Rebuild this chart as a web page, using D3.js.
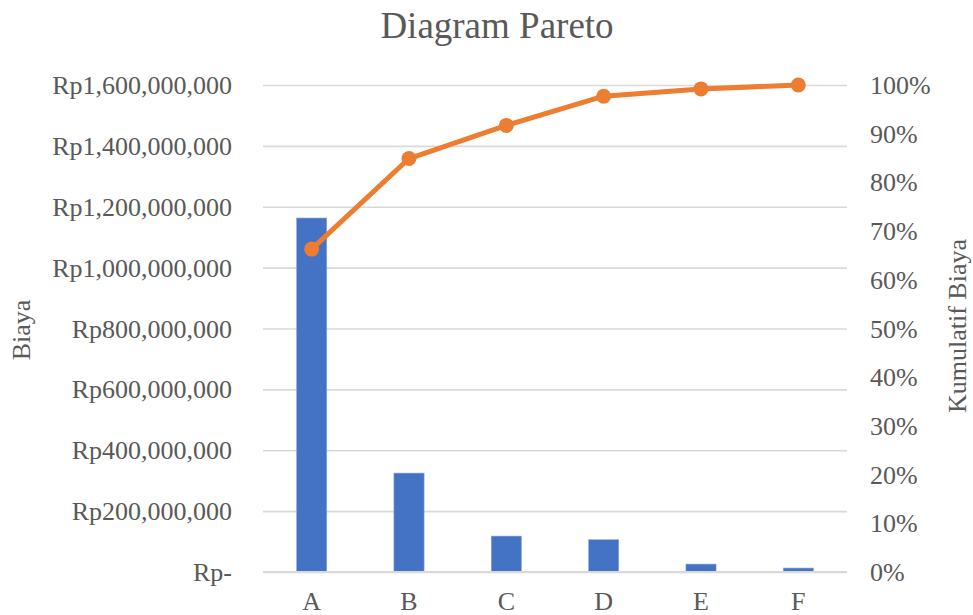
<!DOCTYPE html>
<html>
<head>
<meta charset="utf-8">
<script src="https://cdn.jsdelivr.net/npm/d3@7"></script>
<style>
  html, body { margin: 0; padding: 0; background: #fff; }
  svg { display: block; }
  text { font-family: "Liberation Serif", "Times New Roman", serif; fill: #595959; }
</style>
</head>
<body>
<svg id="chart" width="973" height="615"></svg>
<script>
// Cost categories and their costs (Rupiah)
const categories = ["A", "B", "C", "D", "E", "F"];
const costs = [1163000000, 325000000, 118000000, 106000000, 26000000, 13000000];
// Cumulative share of total cost for each category
const cumulative = [0.663, 0.849, 0.917, 0.977, 0.992, 1.0];
// Axis ticks
const costTicks = [0, 200000000, 400000000, 600000000, 800000000, 1000000000, 1200000000, 1400000000, 1600000000];
const pctTicks = [0, 0.1, 0.2, 0.3, 0.4, 0.5, 0.6, 0.7, 0.8, 0.9, 1.0];

const svg = d3.select("#chart");
const plot = { left: 263, right: 847, top: 85, bottom: 572 };

const x = d3.scaleBand()
  .domain(categories)
  .range([plot.left, plot.right])
  .paddingInner(0.69)
  .paddingOuter(0.345);

const yCost = d3.scaleLinear().domain([0, 1600000000]).range([plot.bottom, plot.top]);
const yPct = d3.scaleLinear().domain([0, 1]).range([plot.bottom, plot.top]);

const rupiah = v => v === 0 ? "Rp-" : "Rp" + d3.format(",")(v);

// Horizontal gridlines + left axis labels
const leftAxis = d3.axisLeft(yCost)
  .tickValues(costTicks)
  .tickFormat(rupiah)
  .tickSize(-(plot.right - plot.left))
  .tickPadding(31);

const gLeft = svg.append("g")
  .attr("transform", `translate(${plot.left},0)`)
  .call(leftAxis);
gLeft.select(".domain").remove();
gLeft.selectAll(".tick line").attr("stroke", "#d9d9d9").attr("stroke-width", 1.6);
gLeft.selectAll(".tick text")
  .style("font-family", '"Liberation Serif", serif')
  .style("font-size", "26px")
  .attr("fill", "#595959")
  .attr("dy", "0.33em");

// Right axis (percentage), labels only
const rightAxis = d3.axisRight(yPct)
  .tickValues(pctTicks)
  .tickFormat(d3.format(".0%"))
  .tickSize(0)
  .tickPadding(23);

const gRight = svg.append("g")
  .attr("transform", `translate(${plot.right},0)`)
  .call(rightAxis);
gRight.select(".domain").remove();
gRight.selectAll(".tick text")
  .style("font-family", '"Liberation Serif", serif')
  .style("font-size", "26px")
  .attr("fill", "#595959")
  .attr("dy", "0.33em");

// Category axis labels
const bottomAxis = d3.axisBottom(x).tickSize(0).tickPadding(38);
const gBottom = svg.append("g")
  .attr("transform", `translate(0,${plot.bottom})`)
  .call(bottomAxis);
gBottom.select(".domain").remove();
gBottom.selectAll(".tick text")
  .style("font-family", '"Liberation Serif", serif')
  .style("font-size", "26px")
  .attr("fill", "#595959")
  .attr("dy", "0");

// Bars
svg.append("g")
  .selectAll("rect")
  .data(categories)
  .join("rect")
  .attr("x", d => x(d))
  .attr("width", x.bandwidth())
  .attr("y", (d, i) => yCost(costs[i]))
  .attr("height", (d, i) => yCost(0) - yCost(costs[i]))
  .attr("fill", "#4472c4")
  .attr("stroke", "#8faadc")
  .attr("stroke-width", 0.6);

// Baseline on top of bars
svg.append("line")
  .attr("x1", plot.left).attr("x2", plot.right)
  .attr("y1", yCost(0)).attr("y2", yCost(0))
  .attr("stroke", "#d9d9d9").attr("stroke-width", 1.8);

// Cumulative line
const cx = d => x(d) + x.bandwidth() / 2;
const line = d3.line()
  .x((d, i) => cx(categories[i]))
  .y(d => yPct(d));

svg.append("path")
  .datum(cumulative)
  .attr("d", line)
  .attr("fill", "none")
  .attr("stroke", "#ed7d31")
  .attr("stroke-width", 5)
  .attr("stroke-linejoin", "round");

svg.append("g")
  .selectAll("circle")
  .data(cumulative)
  .join("circle")
  .attr("cx", (d, i) => cx(categories[i]))
  .attr("cy", d => yPct(d))
  .attr("r", 7.5)
  .attr("fill", "#ed7d31");

// Title
svg.append("text")
  .attr("x", 497)
  .attr("y", 38)
  .attr("text-anchor", "middle")
  .style("font-size", "37px")
  .text("Diagram Pareto");

// Axis titles
svg.append("text")
  .attr("transform", "translate(30,330) rotate(-90)")
  .attr("text-anchor", "middle")
  .style("font-size", "26px")
  .text("Biaya");

svg.append("text")
  .attr("transform", "translate(966,326) rotate(-90)")
  .attr("text-anchor", "middle")
  .style("font-size", "26px")
  .text("Kumulatif Biaya");
</script>
</body>
</html>
